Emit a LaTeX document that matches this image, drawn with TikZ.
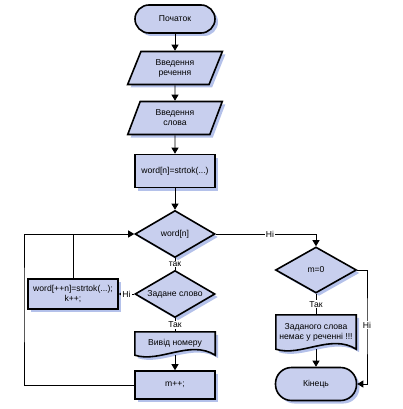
\documentclass[tikz,border=0pt]{standalone}
\usepackage{fontspec}
\setmainfont{Liberation Sans}
\usepackage{tikz}
\usepackage{xcolor}
\definecolor{flowFill}{HTML}{C8CFEE}
\definecolor{flowShadow}{HTML}{B4C1EA}
\usetikzlibrary{shapes.geometric,shadows,arrows.meta,backgrounds}

\newcommand\docoutline[1]{(#1.north west) -- (#1.north east) -- (#1.south east)
  .. controls +(-25,-16) and +(25,8) .. (#1.south west) -- cycle}

\tikzset{
  flowtext/.style={font=\fontsize{8.6}{10}\selectfont, align=center},
  flowbox/.style={flowtext, draw=black, line width=1.6pt, fill=flowFill, inner sep=1pt,
    drop shadow={shadow xshift=3pt, shadow yshift=-3pt, fill=flowShadow, opacity=1}},
  termbox/.style={flowbox, rectangle, rounded corners=14pt},
  iobox/.style={flowbox, trapezium, trapezium left angle=68, trapezium right angle=112,
    trapezium stretches=true},
  procbox/.style={flowbox, rectangle},
  testbox/.style={flowbox, diamond, aspect=1.7, inner sep=0pt},
  docbox/.style={flowtext, rectangle, inner sep=1pt},
  link/.style={line width=0.8pt, -{Triangle[width=7pt,length=6pt]}},
  plainlink/.style={line width=0.8pt},
  linklabel/.style={flowtext, fill=white, inner sep=1pt},
}

\begin{document}
\begin{tikzpicture}[x=1pt, y=-1pt]
  \useasboundingbox (0,0) rectangle (402,409);

  % main column
  \node[termbox, minimum width=80pt, minimum height=28pt] (start) at (175,19) {Початок};
  \node[iobox, minimum width=95pt, minimum height=33pt] (inpSent) at (175,68) {Введення\\речення};
  \node[iobox, minimum width=95pt, minimum height=33pt] (inpWord) at (175,118) {Введення\\слова};
  \node[procbox, minimum width=80pt, minimum height=33pt] (split) at (175,171) {word[n]=strtok(...)};
  \node[testbox, minimum width=80pt, minimum height=47pt] (chkWord) at (175,234) {word[n]};
  \node[testbox, minimum width=80pt, minimum height=47pt] (chkMatch) at (175,294) {Задане слово};
  \node[docbox, minimum width=80pt, minimum height=23pt] (outPos) at (175,343.5) {Вивід номеру};
  \node[procbox, minimum width=80pt, minimum height=28pt] (incM) at (175,385) {m++;};

  % left box
  \node[procbox, minimum width=90pt, minimum height=30pt] (nextTok) at (73,294) {word[++n]=strtok(...);\\k++;};

  % right column
  \node[testbox, minimum width=81pt, minimum height=46pt] (chkM) at (316,270) {m=0};
  \node[docbox, minimum width=80pt, minimum height=34pt] (notFound) at (316,332) {Заданого слова\\немає у реченні !!!};
  \node[termbox, rounded corners=16pt, minimum width=81pt, minimum height=33pt] (stop) at (316,384) {Кінець};

  \coordinate (loopL) at (24,300);
  \coordinate (loopR) at (367,325);

  % document shapes
  \begin{scope}[on background layer]
    \fill[flowShadow, transform canvas={xshift=3pt, yshift=-3pt}] \docoutline{outPos};
    \filldraw[fill=flowFill, line width=1.6pt] \docoutline{outPos};
    \fill[flowShadow, transform canvas={xshift=3pt, yshift=-3pt}] \docoutline{notFound};
    \filldraw[fill=flowFill, line width=1.6pt] \docoutline{notFound};
  \end{scope}

  % connectors
  \draw[link] (start) -- (inpSent);
  \draw[link] (inpSent) -- (inpWord);
  \draw[link] (inpWord) -- (split);
  \draw[link] (split) -- (chkWord);
  \draw[plainlink] (chkWord) -- node[linklabel] {так} (chkMatch);
  \draw[plainlink] (chkMatch) -- node[linklabel] {Так} (outPos);
  \draw[link] (outPos.south) -- (incM);
  \draw[link] (incM.west) -| (loopL) |- (chkWord.west);
  \draw[link] (chkMatch.west) -- node[linklabel] {Ні} (nextTok.east);
  \draw[plainlink] (nextTok.north) -- (nextTok.north |- chkWord.west);
  \draw[link] (chkWord.east) -| node[linklabel, pos=0.27] {Ні} (chkM.north);
  \draw[plainlink] (chkM) -- node[linklabel] {Так} (notFound);
  \draw[link] (notFound.south) -- (stop);
  \draw[link] (chkM.east) -| (loopR) node[linklabel] {Ні} |- (stop.east);
\end{tikzpicture}
\end{document}
